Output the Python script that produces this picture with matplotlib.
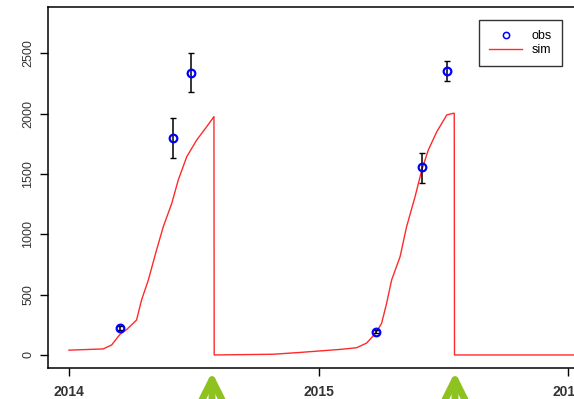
import matplotlib.pyplot as plt

# observed points with error bars
obs_t = [2014.204, 2014.415, 2014.491, 2015.229, 2015.414, 2015.516]
obs_v = [221, 1800, 2334, 193, 1555, 2353]
obs_lo = [205, 1630, 2182, 178, 1428, 2270]
obs_hi = [237, 1961, 2500, 208, 1676, 2439]

# simulated curve
sim_t = [2014.0, 2014.137, 2014.171, 2014.204, 2014.231, 2014.271, 2014.291,
         2014.318, 2014.351, 2014.378, 2014.412, 2014.438, 2014.472, 2014.512,
         2014.552, 2014.581, 2014.582, 2014.818, 2014.926, 2015.086, 2015.153,
         2015.193, 2015.229, 2015.253, 2015.273, 2015.293, 2015.327, 2015.353,
         2015.387, 2015.414, 2015.440, 2015.474, 2015.514, 2015.540, 2015.544,
         2015.545, 2016.1]
sim_v = [40, 50, 83, 170, 210, 290, 456,
         621, 870, 1063, 1257, 1450, 1643, 1782,
         1892, 1975, 0, 6, 21, 46, 60,
         99, 180, 263, 428, 621, 815, 1063,
         1312, 1533, 1699, 1850, 1989, 2003, 2003,
         0, 0]

xticks = [2014, 2015, 2016]
yticks = [0, 500, 1000, 1500, 2000, 2500]
arrow_x = [212, 455]  # green arrows below the axis (figure pixels)

W, H = 574, 399
fig = plt.figure(figsize=(W / 100, H / 100), dpi=100)
ax = fig.add_axes([48 / W, (H - 368) / H, (590 - 48) / W, (368 - 7) / H])

ax.plot(sim_t, sim_v, color="#ff2a2a", lw=1, label="sim")
yerr = [[v - lo for v, lo in zip(obs_v, obs_lo)], [hi - v for v, hi in zip(obs_v, obs_hi)]]
ax.errorbar(obs_t, obs_v, yerr=yerr, fmt="none", ecolor="black", elinewidth=1.1, capsize=2)
ax.plot(obs_t, obs_v, "o", mfc="none", mec="blue", ms=5.5, mew=1.6, label="obs")

ax.set_xlim(2013.916, 2016.088)
ax.set_ylim(-108, 2884)
ax.set_xticks(xticks)
ax.set_yticks(yticks)
ax.set_xticklabels([str(x) for x in xticks], fontsize=10, fontweight="bold", color="#333333",
                   family="Liberation Sans")
ax.set_yticklabels([str(y) for y in yticks], fontsize=9, rotation=90, va="center",
                   color="#333333", family="Liberation Sans")
ax.tick_params(axis="both", direction="out", length=6, width=1, color="black")
ax.tick_params(axis="x", pad=6)
ax.tick_params(axis="y", pad=4)
for s in ax.spines.values():
    s.set_linewidth(1.1)

handles, labels = ax.get_legend_handles_labels()
leg = fig.legend(handles[::-1], labels[::-1], loc="upper right",
                 bbox_to_anchor=(562 / W, (H - 20) / H), borderaxespad=0,
                 fancybox=False, edgecolor="#333333", framealpha=1,
                 handlelength=2.6, borderpad=0.8, labelspacing=0.15,
                 prop={"family": "Liberation Sans", "size": 9})
leg.legend_handles[0].set_markersize(4.5)
leg.legend_handles[0].set_markeredgewidth(1.1)

for x in arrow_x:
    fig.add_artist(plt.Annotation("", xy=(x, H - 372), xycoords="figure pixels",
                                  xytext=(x, -10), textcoords="figure pixels",
                                  arrowprops=dict(arrowstyle="->, head_length=1.6, head_width=0.8",
                                                  lw=5, color="#8dc21f",
                                                  shrinkA=0, shrinkB=0)))

fig.savefig("out.png", dpi=100)
